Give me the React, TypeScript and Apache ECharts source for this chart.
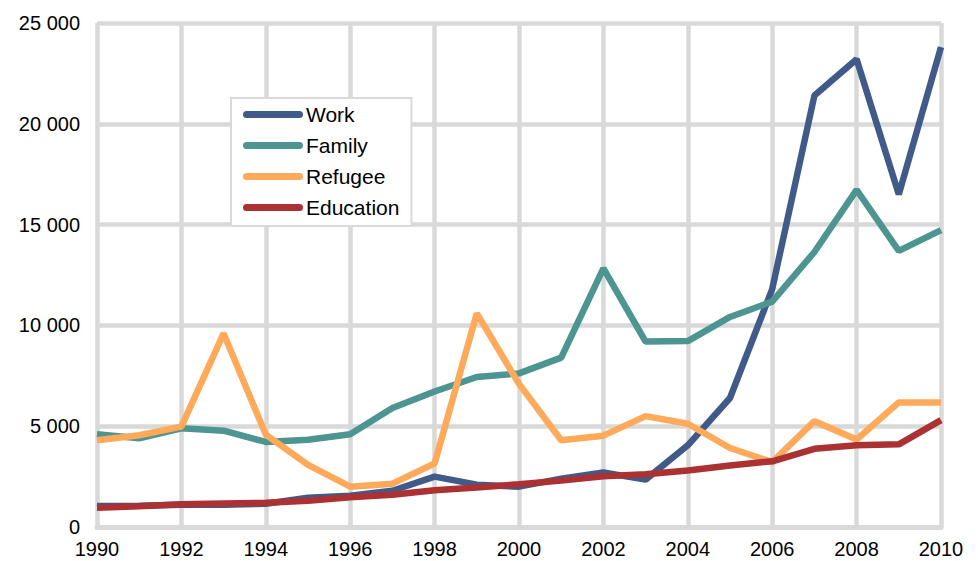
import React, { useEffect, useRef } from "react";
import * as echarts from "echarts";

const years = [
  "1990", "1991", "1992", "1993", "1994", "1995", "1996", "1997", "1998", "1999", "2000",
  "2001", "2002", "2003", "2004", "2005", "2006", "2007", "2008", "2009", "2010",
];
const work = [1040, 1050, 1100, 1100, 1150, 1450, 1550, 1800, 2500, 2100, 2000, 2400, 2700, 2350, 4050, 6400, 11800, 21400, 23200, 16500, 23800];
const family = [4600, 4400, 4900, 4780, 4220, 4330, 4600, 5900, 6720, 7440, 7620, 8400, 12830, 9200, 9220, 10420, 11180, 13640, 16720, 13700, 14730];
const refugee = [4300, 4550, 4980, 9600, 4580, 3080, 2000, 2150, 3150, 10600, 7100, 4300, 4530, 5500, 5120, 3920, 3220, 5250, 4340, 6180, 6180];
const education = [950, 1030, 1130, 1170, 1200, 1300, 1480, 1600, 1820, 1960, 2120, 2300, 2520, 2620, 2800, 3050, 3260, 3880, 4060, 4100, 5300];

const seriesNames = ["Work", "Family", "Refugee", "Education"];
const seriesColors = ["#405a8a", "#4c9591", "#ffa95a", "#ab3133"];
const seriesData = [work, family, refugee, education];

const GRID = "#d9d9d9";

export default function App() {
  const ref = useRef<HTMLDivElement>(null);
  useEffect(() => {
    document.body.style.margin = "0";
    const chart = echarts.init(ref.current!, undefined, { renderer: "svg" });
    chart.setOption({
      animation: false,
      backgroundColor: "#ffffff",
      textStyle: { fontFamily: "Liberation Sans, Arial, sans-serif" },
      grid: { left: 97, right: 37, top: 23, bottom: 34, containLabel: false },
      legend: {
        orient: "vertical",
        left: 231,
        top: 98,
        padding: [6, 12, 8, 12],
        itemGap: 10,
        itemWidth: 60,
        itemHeight: 7,
        icon: "path://M3.5,0 L56.5,0 A3.5,3.5 0 0 1 56.5,7 L3.5,7 A3.5,3.5 0 0 1 3.5,0 Z",
        backgroundColor: "#ffffff",
        borderColor: GRID,
        borderWidth: 2,
        borderRadius: 0,
        textStyle: { fontSize: 21, color: "#000", lineHeight: 21, padding: [0, 0, 0, -2] },
        data: seriesNames,
      },
      xAxis: {
        type: "category",
        data: years,
        boundaryGap: false,
        axisLine: { show: true, lineStyle: { color: GRID, width: 5 } },
        axisTick: { show: false },
        axisLabel: { interval: 1, fontSize: 20, color: "#000", margin: 12 },
        splitLine: { show: true, interval: 1, lineStyle: { color: GRID, width: 4.5 } },
      },
      yAxis: {
        type: "value",
        min: 0,
        max: 25000,
        interval: 5000,
        axisLine: { show: false },
        axisTick: { show: false },
        axisLabel: {
          fontSize: 20,
          color: "#000",
          margin: 17,
          formatter: (v: number) => (v === 0 ? "0" : `${Math.floor(v / 1000)} ${String(v % 1000).padStart(3, "0")}`),
        },
        splitLine: { show: true, lineStyle: { color: GRID, width: 4.5 } },
      },
      series: seriesNames.map((name, i) => ({
        name,
        type: "line",
        data: seriesData[i],
        symbol: "none",
        color: seriesColors[i],
        lineStyle: { width: 6.5, color: seriesColors[i] },
      })),
    });
    return () => chart.dispose();
  }, []);
  return <div ref={ref} style={{ width: 978, height: 561 }} />;
}
